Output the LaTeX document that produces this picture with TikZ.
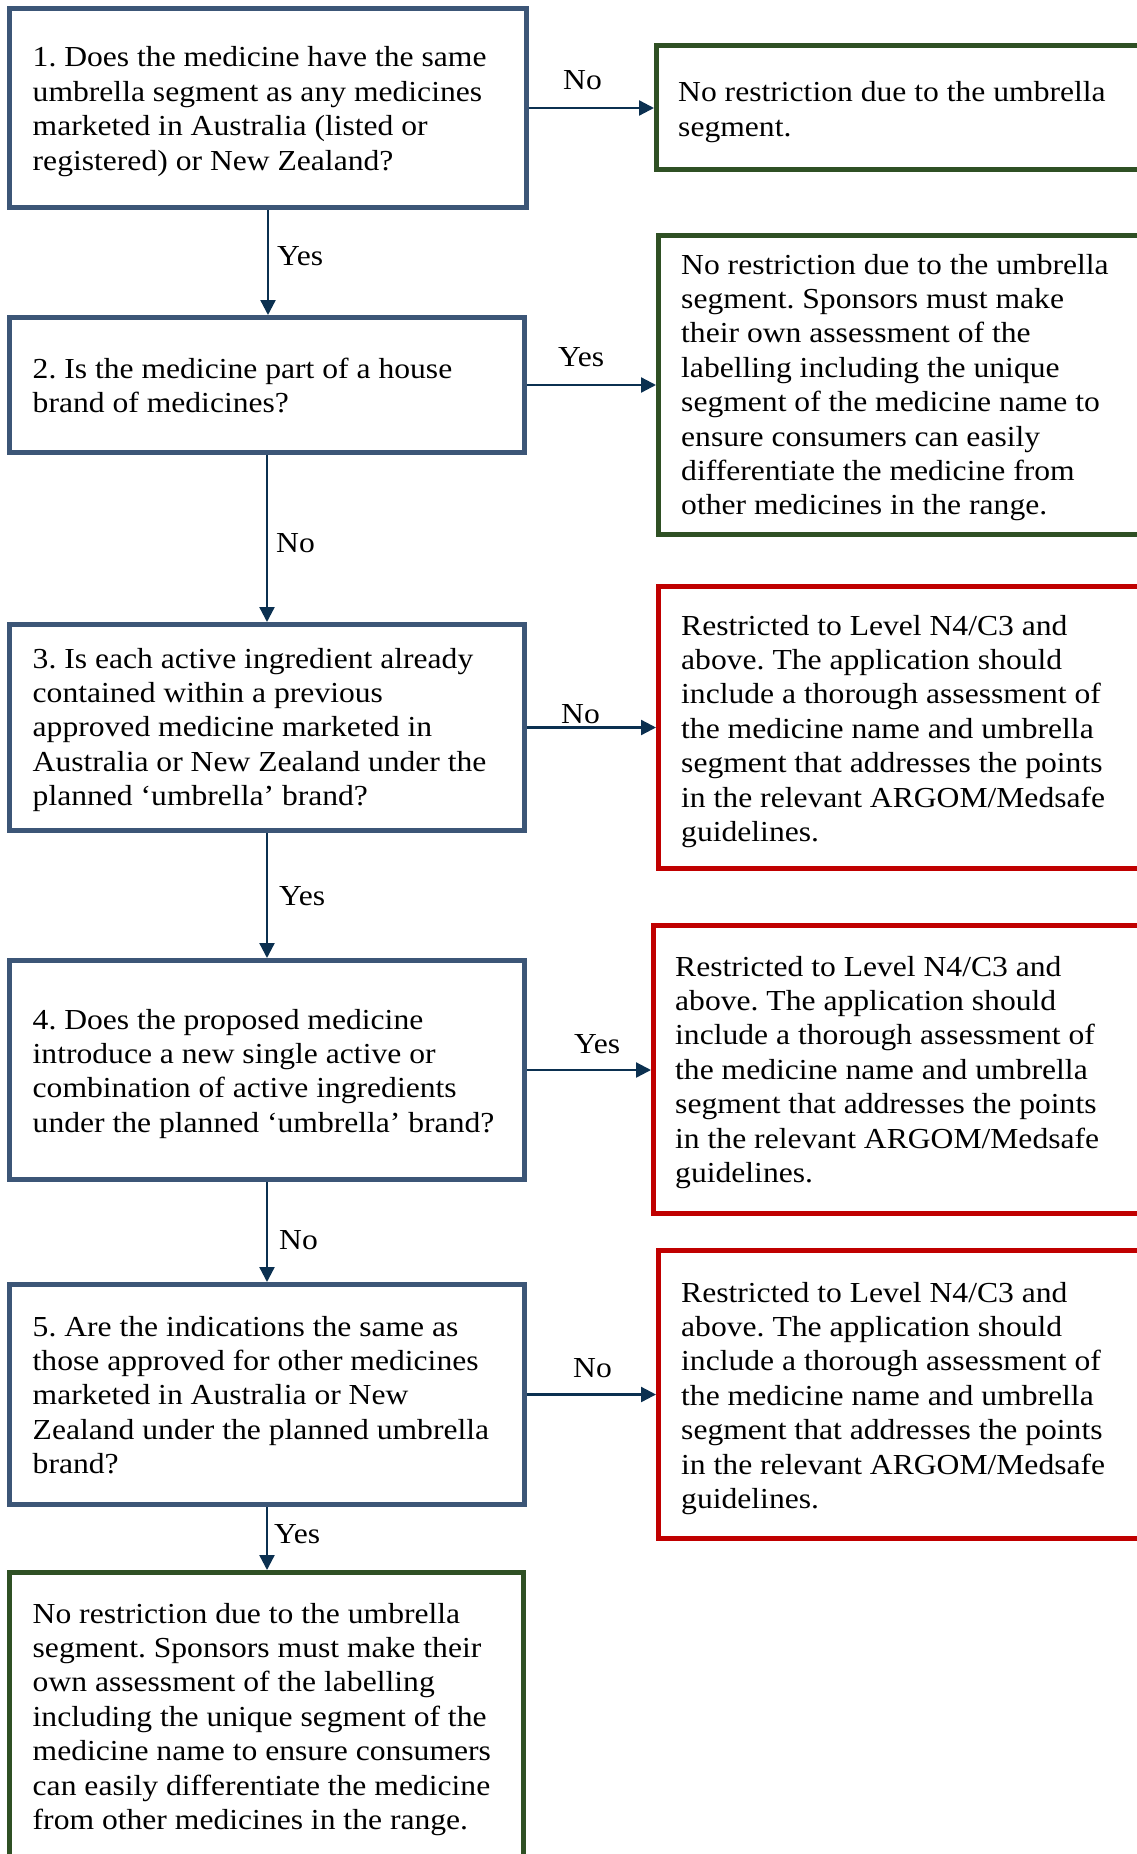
\documentclass[tikz,border=0pt]{standalone}
\usepackage{fontspec}
\setmainfont[FakeStretch=1.09]{Liberation Serif}
\usetikzlibrary{arrows.meta}
\definecolor{qblue}{HTML}{3C5677}
\definecolor{ggreen}{HTML}{2F5024}
\definecolor{rred}{HTML}{C00000}
\definecolor{arrblue}{HTML}{0B3050}
\newcommand\mylines[1]{\begin{tabular}[t]{@{}l@{}}#1\end{tabular}}
\newcommand\bodyfont{\fontsize{29}{34.4}\selectfont}
\frenchspacing
\begin{document}
\begin{tikzpicture}[x=1pt,y=-1pt,
  boxbase/.style={rectangle,line width=5pt,inner sep=0pt,anchor=north west,fill=white},
  qbox/.style={boxbase,draw=qblue},
  gbox/.style={boxbase,draw=ggreen},
  rbox/.style={boxbase,draw=rred},
  txt/.style={anchor=base west,inner sep=0pt,font=\bodyfont,text=black},
  lbl/.style={anchor=base west,inner sep=0pt,font=\bodyfont,text=black},
  arr/.style={draw=arrblue,line width=2.3pt,-{Triangle[length=15pt,width=15pt]}}]
\useasboundingbox (0,0) rectangle (1137,1854);
\clip (0,0) rectangle (1137,1854);
\fill[white] (0,0) rectangle (1137,1854);

% question boxes
\node[qbox,minimum width=517pt,minimum height=199pt] (q1) at (7,6) {};
\node[qbox,minimum width=515pt,minimum height=135pt] (q2) at (7,315) {};
\node[qbox,minimum width=515pt,minimum height=206pt] (q3) at (7,622) {};
\node[qbox,minimum width=515pt,minimum height=219pt] (q4) at (7,958) {};
\node[qbox,minimum width=515pt,minimum height=220pt] (q5) at (7,1282) {};
\node[gbox,minimum width=514pt,minimum height=315pt] (g3) at (7,1570) {};

% outcome boxes
\node[gbox,minimum width=511pt,minimum height=124pt] (g1) at (654,43) {};
\node[gbox,minimum width=509pt,minimum height=299pt] (g2) at (656,233) {};
\node[rbox,minimum width=509pt,minimum height=282pt] (r1) at (656,584) {};
\node[rbox,minimum width=514pt,minimum height=288pt] (r2) at (651,923) {};
\node[rbox,minimum width=509pt,minimum height=288pt] (r3) at (656,1248) {};

% texts
\node[txt] (tq1) at (32.5,67) {\mylines{1. Does the medicine have the same\\umbrella segment as any medicines\\marketed in Australia (listed or\\registered) or New Zealand?}};
\node[txt] (tq2) at (32.5,378) {\mylines{2. Is the medicine part of a house\\brand of medicines?}};
\node[txt] (tq3) at (32.5,668) {\mylines{3. Is each active ingredient already\\contained within a previous\\approved medicine marketed in\\Australia or New Zealand under the\\planned ‘umbrella’ brand?}};
\node[txt] (tq4) at (32.5,1029) {\mylines{4. Does the proposed medicine\\introduce a new single active or\\combination of active ingredients\\under the planned ‘umbrella’ brand?}};
\node[txt] (tq5) at (32.5,1336) {\mylines{5. Are the indications the same as\\those approved for other medicines\\marketed in Australia or New\\Zealand under the planned umbrella\\brand?}};
\node[txt] (tg3) at (32.5,1623) {\mylines{No restriction due to the umbrella\\segment. Sponsors must make their\\own assessment of the labelling\\including the unique segment of the\\medicine name to ensure consumers\\can easily differentiate the medicine\\from other medicines in the range.}};
\node[txt] (tg1) at (678,102) {\mylines{No restriction due to the umbrella\\segment.}};
\node[txt] (tg2) at (681,274) {\mylines{No restriction due to the umbrella\\segment. Sponsors must make\\their own assessment of the\\labelling including the unique\\segment of the medicine name to\\ensure consumers can easily\\differentiate the medicine from\\other medicines in the range.}};
\node[txt] (tr1) at (681,635) {\mylines{Restricted to Level N4/C3 and\\above. The application should\\include a thorough assessment of\\the medicine name and umbrella\\segment that addresses the points\\in the relevant ARGOM/Medsafe\\guidelines.}};
\node[txt] (tr2) at (675,976) {\mylines{Restricted to Level N4/C3 and\\above. The application should\\include a thorough assessment of\\the medicine name and umbrella\\segment that addresses the points\\in the relevant ARGOM/Medsafe\\guidelines.}};
\node[txt] (tr3) at (681,1302) {\mylines{Restricted to Level N4/C3 and\\above. The application should\\include a thorough assessment of\\the medicine name and umbrella\\segment that addresses the points\\in the relevant ARGOM/Medsafe\\guidelines.}};

% connectors
\draw[arr] (q1.south) -- (q1.south |- q2.north);
\draw[arr] (q2.south) -- (q2.south |- q3.north);
\draw[arr] (q3.south) -- (q3.south |- q4.north);
\draw[arr] (q4.south) -- (q4.south |- q5.north);
\draw[arr] (q5.south) -- (q5.south |- g3.north);
\draw[arr] (q1.east) -- (q1.east -| g1.west);
\draw[arr] (q2.east) -- (q2.east -| g2.west);
\draw[arr] (q3.east) -- (q3.east -| r1.west);
\draw[arr] (q4.east) -- (q4.east -| r2.west);
\draw[arr] (q5.east) -- (q5.east -| r3.west);

% connector labels
\node[lbl] (l1) at (563,90) {No};
\node[lbl] (l2) at (277,265) {Yes};
\node[lbl] (l3) at (558,366) {Yes};
\node[lbl] (l4) at (276,552) {No};
\node[lbl] (l5) at (561,723) {No};
\node[lbl] (l6) at (279,905) {Yes};
\node[lbl] (l7) at (574,1053) {Yes};
\node[lbl] (l8) at (279,1249) {No};
\node[lbl] (l9) at (573,1377) {No};
\node[lbl] (l10) at (274,1543) {Yes};
\end{tikzpicture}
\end{document}
